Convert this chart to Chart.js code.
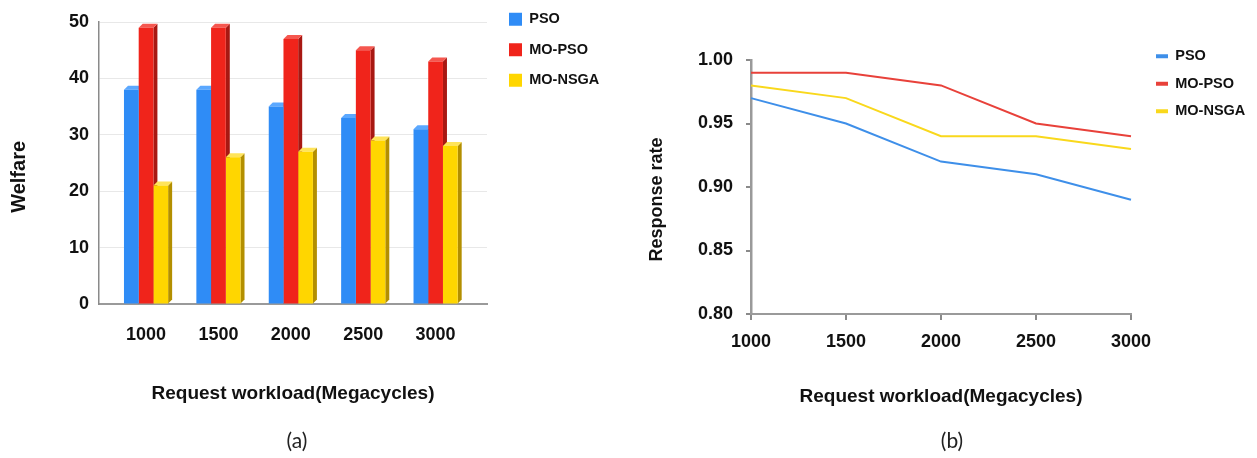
<!DOCTYPE html>
<html>
<head>
<meta charset="utf-8">
<script src="https://cdn.jsdelivr.net/npm/chart.js@4.4.1/dist/chart.umd.min.js"></script>
<style>
  html, body { margin: 0; padding: 0; background: #fff; }
  #wrap { position: relative; width: 1257px; height: 458px; overflow: hidden; }
  .panel { position: absolute; top: 0; height: 458px; }
  #panelA { left: 0; width: 620px; }
  #panelB { left: 630px; width: 627px; }
  .caption { position: absolute; top: 427px; font: 21px Lato, 'Open Sans', sans-serif; line-height: 25px; color: #222; transform: translateX(-50%); }
</style>
</head>
<body>
<div id="wrap">
  <div class="panel" id="panelA"><canvas id="welfare"></canvas></div>
  <div class="panel" id="panelB"><canvas id="response"></canvas></div>
  <div class="caption" style="left:297px">(a)</div>
  <div class="caption" style="left:952px">(b)</div>
</div>
<script>
// data
const workloads = [1000, 1500, 2000, 2500, 3000];
const seriesNames = ['PSO', 'MO-PSO', 'MO-NSGA'];

const welfarePSO = [38, 38, 35, 33, 31];
const welfareMOPSO = [49, 49, 47, 45, 43];
const welfareMONSGA = [21, 26, 27, 29, 28];
const welfareTicks = [0, 10, 20, 30, 40, 50];

const responsePSO = [0.97, 0.95, 0.92, 0.91, 0.89];
const responseMOPSO = [0.99, 0.99, 0.98, 0.95, 0.94];
const responseMONSGA = [0.98, 0.97, 0.94, 0.94, 0.93];
const responseTicks = [0.80, 0.85, 0.90, 0.95, 1.00];

const FAMILY = "'Liberation Sans', Arial, sans-serif";
const INK = '#111';
const xTitle = 'Request workload(Megacycles)';

// move the legend box a little away from the plot (and don't clip its text)
const legendNudge = {
  id: 'legendNudge',
  afterLayout(chart, args, opts) {
    const lg = chart.legend;
    if (!lg) return;
    lg.left += opts.dx;
    lg.top += opts.dy;
    lg.right = chart.width;
  }
};

// fake 3D: side and top faces behind each bar
const barDepth = {
  id: 'barDepth',
  beforeDatasetsDraw(chart, args, opts) {
    const ctx = chart.ctx;
    const d = opts.depth;
    ctx.save();
    chart.data.datasets.forEach((ds, i) => {
      chart.getDatasetMeta(i).data.forEach(bar => {
        const {x, y, base, width} = bar.getProps(['x', 'y', 'base', 'width'], true);
        const l = x - width / 2, r = x + width / 2;
        ctx.fillStyle = ds.sideColor;
        ctx.beginPath();
        ctx.moveTo(r, y); ctx.lineTo(r + d, y - d);
        ctx.lineTo(r + d, base - d); ctx.lineTo(r, base);
        ctx.closePath(); ctx.fill();
        ctx.fillStyle = ds.topColor;
        ctx.beginPath();
        ctx.moveTo(l, y); ctx.lineTo(l + d, y - d);
        ctx.lineTo(r + d, y - d); ctx.lineTo(r, y);
        ctx.closePath(); ctx.fill();
      });
    });
    ctx.restore();
  }
};

const toPoints = vals => workloads.map((w, i) => ({x: w, y: vals[i]}));

new Chart(document.getElementById('welfare'), {
  type: 'bar',
  data: {
    datasets: [
      { label: seriesNames[0], data: toPoints(welfarePSO), backgroundColor: '#2f8cf6', sideColor: '#1c5fb4', topColor: '#5ba8ff' },
      { label: seriesNames[1], data: toPoints(welfareMOPSO), backgroundColor: '#f0241b', sideColor: '#a81812', topColor: '#f5574f' },
      { label: seriesNames[2], data: toPoints(welfareMONSGA), backgroundColor: '#ffd600', sideColor: '#b38f00', topColor: '#ffe45a' }
    ]
  },
  options: {
    responsive: true,
    maintainAspectRatio: false,
    animation: false,
    layout: { padding: { top: 22, right: 33, bottom: 38, left: 0 } },
    datasets: { bar: { categoryPercentage: 0.61, barPercentage: 1, borderWidth: 0 } },
    scales: {
      x: {
        type: 'linear',
        offset: false,
        min: 675,
        max: 3355,
        afterBuildTicks: s => { s.ticks = workloads.map(v => ({value: v})); },
        grid: { display: false, offset: false },
        border: { color: '#9a9a9a', width: 2 },
        ticks: { color: INK, padding: 12, font: { family: FAMILY, size: 18, weight: 'bold' }, callback: v => String(v) },
        title: { display: true, text: xTitle, color: INK, font: { family: FAMILY, size: 19, weight: 'bold' }, padding: { top: 0, bottom: 15 } },
        afterFit: s => { s.height = 116; }
      },
      y: {
        min: 0,
        max: 50,
        afterBuildTicks: s => { s.ticks = welfareTicks.map(v => ({value: v})); },
        grid: { color: '#e8e8e8', drawTicks: false },
        border: { color: '#8a8a8a', width: 1.5 },
        ticks: { color: INK, padding: 10, font: { family: FAMILY, size: 18, weight: 'bold' } },
        title: { display: true, text: 'Welfare     ', color: INK, font: { family: FAMILY, size: 20, weight: 'bold' }, padding: { top: 7, bottom: 0 } },
        afterFit: s => { s.width = 99; }
      }
    },
    plugins: {
      legend: {
        position: 'right',
        align: 'start',
        maxWidth: 100,
        labels: { color: INK, boxWidth: 13, boxHeight: 13, padding: 16, font: { family: FAMILY, size: 14.5, weight: 'bold' } }
      },
      tooltip: { enabled: false },
      legendNudge: { dx: 6, dy: -26 },
      barDepth: { depth: 4 }
    }
  },
  plugins: [legendNudge, barDepth]
});

new Chart(document.getElementById('response'), {
  type: 'line',
  data: {
    labels: workloads,
    datasets: [
      { label: seriesNames[0], data: responsePSO, borderColor: '#3e8fe9', backgroundColor: '#3e8fe9' },
      { label: seriesNames[1], data: responseMOPSO, borderColor: '#e8413a', backgroundColor: '#e8413a' },
      { label: seriesNames[2], data: responseMONSGA, borderColor: '#f9d81c', backgroundColor: '#f9d81c' }
    ]
  },
  options: {
    responsive: true,
    maintainAspectRatio: false,
    animation: false,
    layout: { padding: { top: 60, right: 26, bottom: 38, left: 0 } },
    datasets: { line: { borderWidth: 2, pointRadius: 0, tension: 0, fill: false } },
    scales: {
      x: {
        type: 'category',
        offset: false,
        grid: { drawOnChartArea: false, tickLength: 6, color: '#8a8a8a', lineWidth: 2 },
        border: { color: '#9a9a9a', width: 2 },
        ticks: { color: INK, padding: 11, font: { family: FAMILY, size: 18, weight: 'bold' } },
        title: { display: true, text: xTitle, color: INK, font: { family: FAMILY, size: 19, weight: 'bold' }, padding: { top: 0, bottom: 12 } },
        afterFit: s => { s.height = 106; }
      },
      y: {
        min: 0.8,
        max: 1.0,
        afterBuildTicks: s => { s.ticks = responseTicks.map(v => ({value: v})); },
        grid: { drawOnChartArea: false, tickLength: 5, color: '#8a8a8a', lineWidth: 2 },
        border: { color: '#9a9a9a', width: 2.5 },
        ticks: { color: INK, padding: 13, font: { family: FAMILY, size: 18, weight: 'bold' }, callback: v => v.toFixed(2) },
        title: { display: true, text: 'Response rate     ', color: INK, font: { family: FAMILY, size: 18, weight: 'bold' }, padding: { top: 16, bottom: 0 } },
        afterFit: s => { s.width = 121; }
      }
    },
    plugins: {
      legend: {
        position: 'right',
        align: 'start',
        maxWidth: 100,
        labels: {
          color: INK, usePointStyle: true, pointStyle: 'line', pointStyleWidth: 12, padding: 13,
          font: { family: FAMILY, size: 14.5, weight: 'bold' },
          generateLabels: chart => Chart.defaults.plugins.legend.labels.generateLabels(chart).map(l => ({...l, lineWidth: 4}))
        }
      },
      tooltip: { enabled: false },
      legendNudge: { dx: 12, dy: -24 }
    }
  },
  plugins: [legendNudge]
});
</script>
</body>
</html>
